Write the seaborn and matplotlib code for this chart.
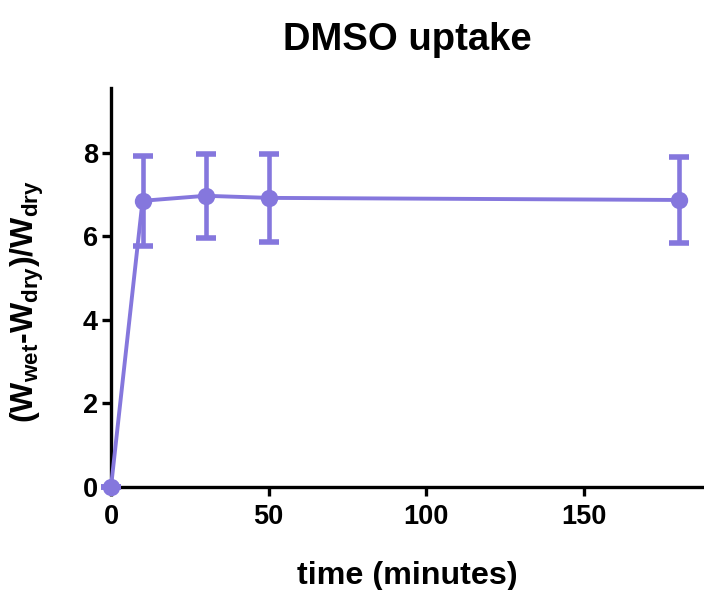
import matplotlib
matplotlib.use("Agg")
import matplotlib.pyplot as plt
import seaborn as sns
import pandas as pd

# DMSO uptake over time: mean swelling ratio with SD
time_min = [0, 10, 30, 50, 180]
ratio_mean = [0.0, 6.85, 6.97, 6.92, 6.87]
ratio_sd = [0.0, 1.07, 1.01, 1.05, 1.04]

x_ticks = [0, 50, 100, 150]
y_ticks = [0, 2, 4, 6, 8]

color = "#8577dd"

sns.set_theme(style="ticks")
plt.rcParams["font.family"] = ["Liberation Sans", "DejaVu Sans"]
plt.rcParams["font.weight"] = "bold"
plt.rcParams["text.color"] = "black"
plt.rcParams["axes.labelcolor"] = "black"
plt.rcParams["mathtext.fontset"] = "custom"
plt.rcParams["mathtext.rm"] = "Liberation Sans:bold"
plt.rcParams["mathtext.it"] = "Liberation Sans:bold"
plt.rcParams["mathtext.bf"] = "Liberation Sans:bold"

df = pd.DataFrame({"time": time_min, "ratio": ratio_mean, "sd": ratio_sd})

fig = plt.figure(figsize=(7.04, 5.90), dpi=100)
ax = fig.add_axes([111 / 704, 103 / 590, 1 - 111 / 704, 399 / 590])

ax.errorbar(df["time"], df["ratio"], yerr=df["sd"], fmt="none", ecolor=color,
            elinewidth=3.3, capsize=7.5, capthick=4, clip_on=False, zorder=3)
sns.lineplot(data=df, x="time", y="ratio", ax=ax, color=color, linewidth=2.8,
             marker="o", markersize=12.5, markeredgewidth=0, zorder=4, clip_on=False)

ax.set_xlim(0, 188)
ax.set_ylim(0, 9.55)
ax.set_xticks(x_ticks)
ax.set_yticks(y_ticks)

for side in ("top", "right"):
    ax.spines[side].set_visible(False)
for side in ("left", "bottom"):
    ax.spines[side].set_linewidth(2.4)
    ax.spines[side].set_color("black")
ax.tick_params(axis="both", length=6.5, width=2.4, color="black",
               labelsize=19.5, labelcolor="black")
ax.tick_params(axis="x", pad=6)
ax.tick_params(axis="y", pad=3)
for lbl in ax.get_xticklabels() + ax.get_yticklabels():
    lbl.set_fontweight("bold")

ax.set_title("DMSO uptake", fontsize=27.5, fontweight="bold", pad=27, color="black")
ax.set_xlabel("time (minutes)", fontsize=23.2, fontweight="bold", labelpad=22)
ax.set_ylabel(r"$\mathregular{(W_{wet}\text{-}W_{dry})/W_{dry}}$", fontsize=23,
              fontweight="bold")
ax.yaxis.set_label_coords(-0.11, 0.465)

fig.savefig("out.png", dpi=100)
